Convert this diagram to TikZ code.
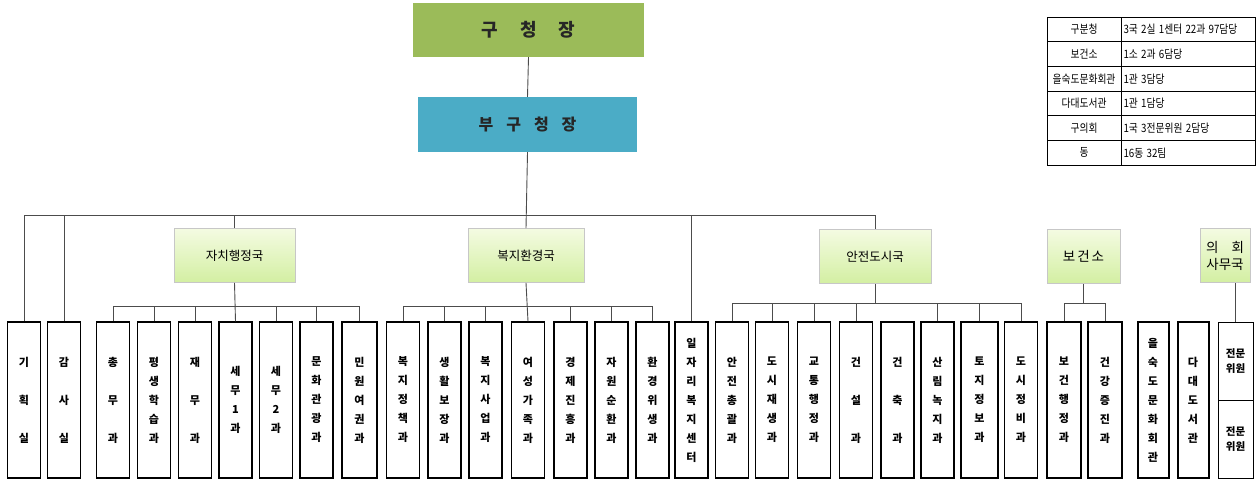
\documentclass[tikz,border=0pt]{standalone}
\usepackage{fontspec}
\setmainfont{Noto Sans CJK KR}
\definecolor{topgreen}{HTML}{9BBB59}
\definecolor{topblue}{HTML}{4BACC6}
\definecolor{bureautop}{HTML}{F4FBE2}
\definecolor{bureaubot}{HTML}{D3EFA2}
\begin{document}
\begin{tikzpicture}[x=1pt,y=-1pt,
  conn/.style={draw=black!70, line width=0.9pt},
  vbox/.style={draw=black, line width=1.1pt, fill=white, minimum width=33pt, minimum height=156pt, inner sep=0pt, align=center, font=\fontsize{11}{19}\bfseries\selectfont},
  heavybox/.style={vbox, line width=2pt},
  jmbox/.style={draw=black, line width=1pt, fill=white, minimum width=35pt, minimum height=78pt, inner sep=0pt, align=center, font=\fontsize{10.5}{15}\bfseries\selectfont},
  bureau/.style={draw=black!22, line width=0.8pt, top color=bureautop, bottom color=bureaubot, minimum height=54pt, inner sep=0pt, align=center, font=\fontsize{12.5}{17}\selectfont},
  lcell/.style={draw=black, line width=0.8pt, minimum height=24.7pt, text width=70pt, inner xsep=2pt, inner ysep=0pt, align=center, font=\fontsize{11.5}{12}\selectfont},
  rcell/.style={draw=black, line width=0.8pt, minimum height=24.7pt, text width=129pt, inner xsep=2.5pt, inner ysep=0pt, align=left, font=\fontsize{11.5}{12}\selectfont}
]
\useasboundingbox (0,0) rectangle (1257,481);

% top boxes
\node[fill=topgreen, minimum width=231pt, minimum height=54pt, inner sep=0pt, font=\fontsize{18}{20}\bfseries\selectfont, text=black!85] (gu) at (528.5,30) {구\hspace{22pt}청\hspace{22pt}장};
\node[fill=topblue, minimum width=219pt, minimum height=55pt, inner sep=0pt, font=\fontsize{16}{18}\bfseries\selectfont, text=black!85] (bu) at (527.5,124.5) {부\hspace{13pt}구\hspace{13pt}청\hspace{13pt}장};

% bureaus
\node[bureau, minimum width=121pt] (jachi) at (234.5,255.5) {자치행정국};
\node[bureau, minimum width=116pt] (bok) at (526,255.5) {복지환경국};
\node[bureau, minimum width=112pt] (anjeon) at (875,256.5) {안전도시국};
\node[bureau, minimum width=73pt, font=\fontsize{13.5}{17}\selectfont] (bogeon) at (1083.5,256.5) {보\hspace{2pt}건\hspace{2pt}소};
\node[bureau, minimum width=50pt, font=\fontsize{13.5}{17}\selectfont] (uihoe) at (1225,255.5) {의\hspace{13pt}회\\사무국};

% offices
\node[vbox] (gh) at (24,400) {기\\[19pt]획\\[19pt]실};
\node[vbox] (gs) at (64,400) {감\\[19pt]사\\[19pt]실};
% 자치행정국
\node[vbox] (c1) at (113,400) {총\\[19pt]무\\[19pt]과};
\node[vbox] (c2) at (154,400) {평\\생\\학\\습\\과};
\node[vbox] (c3) at (195,400) {재\\[19pt]무\\[19pt]과};
\node[vbox] (c4) at (235.5,400) {세\\무\\1\\과};
\node[vbox] (c5) at (276,400) {세\\무\\2\\과};
\node[vbox] (c6) at (316.5,400) {문\\화\\관\\광\\과};
\node[vbox, minimum width=35pt] (c7) at (359.5,400) {민\\원\\여\\권\\과};
% 복지환경국
\node[vbox] (w1) at (403,400) {복\\지\\정\\책\\과};
\node[vbox] (w2) at (444.5,400) {생\\활\\보\\장\\과};
\node[vbox] (w3) at (485.5,400) {복\\지\\사\\업\\과};
\node[vbox] (w4) at (528,400) {여\\성\\가\\족\\과};
\node[vbox] (w5) at (570.5,400) {경\\제\\진\\흥\\과};
\node[vbox] (w6) at (611.5,400) {자\\원\\순\\환\\과};
\node[vbox] (w7) at (652.5,400) {환\\경\\위\\생\\과};
\node[vbox] (ilja) at (691.5,400) {일\\자\\리\\복\\지\\센\\터};
% 안전도시국
\node[vbox] (a1) at (732,400) {안\\전\\총\\괄\\과};
\node[vbox] (a2) at (772,400) {도\\시\\재\\생\\과};
\node[vbox] (a3) at (814,400) {교\\통\\행\\정\\과};
\node[vbox] (a4) at (856,400) {건\\[19pt]설\\[19pt]과};
\node[vbox] (a5) at (897.5,400) {건\\[19pt]축\\[19pt]과};
\node[vbox] (a6) at (937.5,400) {산\\림\\녹\\지\\과};
\node[vbox, minimum width=37pt] (a7) at (979.5,400) {토\\지\\정\\보\\과};
\node[vbox] (a8) at (1021,400) {도\\시\\정\\비\\과};
% 보건소
\node[vbox, minimum width=34pt] (h1) at (1064,400) {보\\건\\행\\정\\과};
\node[vbox, minimum width=34pt] (h2) at (1105,400) {건\\강\\증\\진\\과};
% others
\node[heavybox, minimum width=31pt] (eul) at (1153,400) {을\\숙\\도\\문\\화\\회\\관};
\node[heavybox, minimum width=31pt] (dadae) at (1193,400) {다\\대\\도\\서\\관};
\node[jmbox] (jm1) at (1235.5,361) {전문\\위원};
\node[jmbox] (jm2) at (1235.5,439) {전문\\위원};

% connectors
\coordinate (busL) at (24,215);
\coordinate (busR) at (875,215);
\draw[conn] (gu.south) -- (bu.north);
\draw[conn] (bu.south) -- (bok.north);
\draw[conn] (gh.north) -- (busL) -- (busR) -- (anjeon.north);
\foreach \n in {gs,jachi,ilja} \draw[conn] (\n.north) -- (\n.north |- busL);

\coordinate (jb) at (0,306);
\draw[conn] (jachi.south) -- (c4.north);
\draw[conn] (c1.north) -- (c1.north |- jb) -- (c7.north |- jb) -- (c7.north);
\foreach \n in {c2,c3,c5,c6} \draw[conn] (\n.north) -- (\n.north |- jb);

\draw[conn] (bok.south) -- (w4.north);
\draw[conn] (w1.north) -- (w1.north |- jb) -- (w7.north |- jb) -- (w7.north);
\foreach \n in {w2,w3,w5,w6} \draw[conn] (\n.north) -- (\n.north |- jb);

\coordinate (ab) at (0,303);
\draw[conn] (anjeon.south) -- (anjeon.south |- ab);
\draw[conn] (a1.north) -- (a1.north |- ab) -- (a8.north |- ab) -- (a8.north);
\foreach \n in {a2,a3,a4,a6,a7} \draw[conn] (\n.north) -- (\n.north |- ab);

\draw[conn] (bogeon.south) -- (bogeon.south |- ab);
\draw[conn] (h1.north) -- (h1.north |- ab) -- (h2.north |- ab) -- (h2.north);

\draw[conn] (jm1.north) -- (jm1.north |- uihoe.south);

% summary table
\node[lcell] (l1) at (1084,29.3) {\scalebox{0.85}[1]{구분청}};
\node[rcell] (r1) at (1188,29.3) {\scalebox{0.85}[1]{3국 2실 1센터 22과 97담당}};
\node[lcell] (l2) at (1084,54) {\scalebox{0.85}[1]{보건소}};
\node[rcell] (r2) at (1188,54) {\scalebox{0.85}[1]{1소 2과 6담당}};
\node[lcell] (l3) at (1084,78.7) {\scalebox{0.85}[1]{을숙도문화회관}};
\node[rcell] (r3) at (1188,78.7) {\scalebox{0.85}[1]{1관 3담당}};
\node[lcell] (l4) at (1084,103.3) {\scalebox{0.85}[1]{다대도서관}};
\node[rcell] (r4) at (1188,103.3) {\scalebox{0.85}[1]{1관 1담당}};
\node[lcell] (l5) at (1084,128) {\scalebox{0.85}[1]{구의회}};
\node[rcell] (r5) at (1188,128) {\scalebox{0.85}[1]{1국 3전문위원 2담당}};
\node[lcell] (l6) at (1084,152.7) {\scalebox{0.85}[1]{동}};
\node[rcell] (r6) at (1188,152.7) {\scalebox{0.85}[1]{16동 32팀}};
\end{tikzpicture}
\end{document}
